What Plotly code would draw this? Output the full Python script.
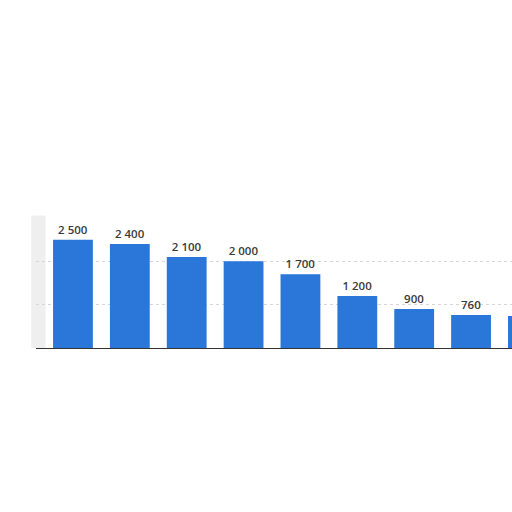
"""Bar chart of values sorted in descending order."""

import plotly.graph_objects as go

categories = ["A", "B", "C", "D", "E", "F", "G", "H", "I"]
values = [2500, 2400, 2100, 2000, 1700, 1200, 900, 760, 740]

BAR_COLOR = "#2a76d9"


def main() -> None:
    fig = go.Figure(
        go.Bar(
            x=categories,
            y=values,
            marker=dict(color=BAR_COLOR, line=dict(width=0)),
            texttemplate="%{y:,}",
            textposition="outside",
            textfont=dict(family="Open Sans", size=11.5, color="#3a3a3a", weight=600),
            cliponaxis=True,
        )
    )

    fig.update_layout(
        width=512,
        height=512,
        margin=dict(l=36, r=0, t=218, b=164),
        paper_bgcolor="white",
        plot_bgcolor="white",
        separators=". ",
        bargap=0.3,
        showlegend=False,
    )
    fig.update_xaxes(
        range=[-0.65, 7.72],
        showticklabels=False,
        showgrid=False,
        showline=True,
        linecolor="#333333",
        linewidth=1,
        ticks="",
    )
    fig.update_yaxes(
        range=[0, 3000],
        dtick=1000,
        showticklabels=False,
        showgrid=True,
        gridcolor="#d6d6d6",
        griddash="dot",
        gridwidth=1,
        zeroline=False,
    )

    # soft grey shadow along the left edge of the card
    fig.add_shape(type="rect", xref="paper", yref="paper",
                  x0=-0.01, x1=0.02, y0=0, y1=1.02,
                  fillcolor="rgba(120,120,120,0.12)", line=dict(width=0), layer="below")

    # drop the page's default body margin so the figure fills the window
    fig.write_html(
        "out.html",
        config={"displayModeBar": False},
        post_script="document.body.style.margin = '0'; document.body.style.overflow = 'hidden';",
    )


if __name__ == "__main__":
    main()
